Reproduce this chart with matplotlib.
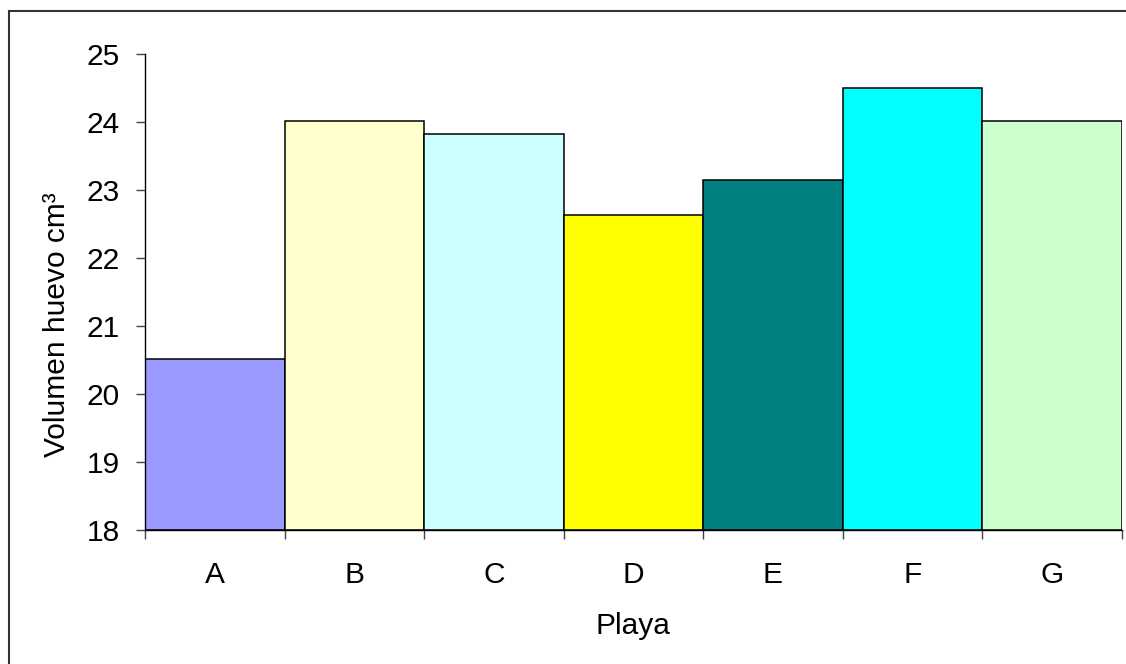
import matplotlib
matplotlib.use("Agg")
import matplotlib.pyplot as plt
from matplotlib.lines import Line2D

plt.rcParams['font.family'] = ['Liberation Sans', 'DejaVu Sans']

# Beach categories and mean egg volume (cm^3)
playas = ["A", "B", "C", "D", "E", "F", "G"]
volumen = [20.51, 24.02, 23.83, 22.64, 23.15, 24.51, 24.02]
colores = ["#9999FF", "#FFFFCC", "#CCFFFF", "#FFFF00", "#008080", "#00FFFF", "#CCFFCC"]
y_ticks = [18, 19, 20, 21, 22, 23, 24, 25]

W, H = 1126, 664
FS = 21.5
fig = plt.figure(figsize=(W / 100, H / 100), dpi=100)
ax = fig.add_axes([145.3 / W, 1 - 530 / H, (1121.7 - 145.3) / W, (530 - 54.3) / H])

x = list(range(len(playas)))
ax.bar(x, [v - 18 for v in volumen], bottom=18, width=1.0, color=colores,
       edgecolor="black", linewidth=1.1, zorder=2)

ax.set_xlim(-0.5, len(playas) - 0.5)
ax.set_ylim(18, 25)
ax.set_yticks(y_ticks)
ax.set_yticklabels([str(t) for t in y_ticks])

# Category labels sit between the boundary ticks
ax.set_xticks([i - 0.5 for i in range(len(playas) + 1)])
ax.set_xticklabels([])
ax.set_xticks(x, minor=True)
ax.set_xticklabels(playas, minor=True)
ax.tick_params(axis="x", which="minor", length=0, pad=22, labelsize=FS)
ax.tick_params(axis="x", which="major", direction="out", length=6.5, width=1, color="#444444")
ax.tick_params(axis="y", direction="out", length=6.5, width=1, color="#444444",
               pad=12, labelsize=FS)

for side in ("top", "right"):
    ax.spines[side].set_visible(False)
for side in ("left", "bottom"):
    ax.spines[side].set_linewidth(1.0)
    ax.spines[side].set_color("black")

fig.text(633 / W, 1 - 626 / H, "Playa", ha="center", va="center", fontsize=FS)
fig.text(57 / W, 1 - 325 / H, "Volumen huevo cm³", ha="center", va="center",
         rotation=90, fontsize=FS)

# Chart-area frame (left and top edges)
fig.add_artist(Line2D([9 / W, 9 / W], [0, 1 - 10.5 / H], transform=fig.transFigure,
                      color="#333333", linewidth=1.5))
fig.add_artist(Line2D([9 / W, 1], [1 - 10.5 / H, 1 - 10.5 / H], transform=fig.transFigure,
                      color="#333333", linewidth=1.5))

fig.savefig("out.png", dpi=100)
